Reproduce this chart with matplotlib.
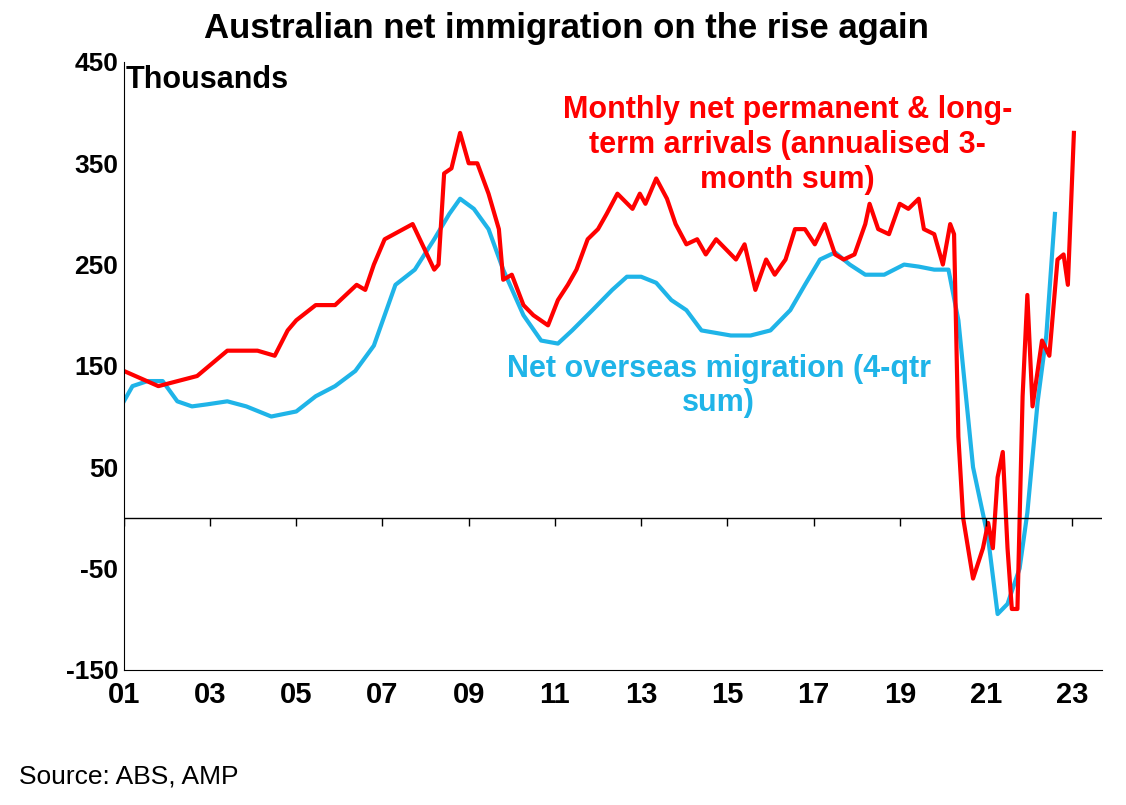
import matplotlib
matplotlib.use("Agg")
import matplotlib.pyplot as plt
import numpy as np

plt.rcParams['font.family'] = ['Liberation Sans', 'DejaVu Sans']

red_x = [2001.0,2001.8,2002.7,2003.4,2004.1,2004.5,2004.8,2005.0,2005.45,2005.9,2006.4,2006.6,2006.8,2007.05,2007.7,2008.2,2008.3,2008.43,2008.6,2008.8,2009.0,2009.2,2009.46,2009.7,2009.8,2010.0,2010.27,2010.5,2010.84,2011.07,2011.3,2011.5,2011.76,2012.0,2012.2,2012.45,2012.8,2012.97,2013.1,2013.35,2013.6,2013.8,2014.05,2014.3,2014.5,2014.74,2014.97,2015.2,2015.4,2015.65,2015.9,2016.1,2016.35,2016.57,2016.8,2017.03,2017.26,2017.5,2017.7,2017.95,2018.2,2018.3,2018.5,2018.75,2019.0,2019.2,2019.44,2019.56,2019.8,2020.0,2020.17,2020.26,2020.36,2020.47,2020.7,2020.93,2021.05,2021.16,2021.27,2021.39,2021.5,2021.6,2021.73,2021.85,2021.96,2022.08,2022.3,2022.47,2022.66,2022.8,2022.9,2023.04]
red_y = [145,130,140,165,165,160,185,195,210,210,230,225,250,275,290,245,250,340,345,380,350,350,320,285,235,240,210,200,190,215,230,245,275,285,300,320,305,320,310,335,315,290,270,275,260,275,265,255,270,225,255,240,255,285,285,270,290,260,255,260,290,310,285,280,310,305,315,285,280,250,290,280,80,0,-60,-30,-5,-30,40,65,-30,-90,-90,120,220,110,175,160,255,260,230,380]

blue_x = [2001.0,2001.2,2001.55,2001.9,2002.24,2002.58,2002.93,2003.4,2003.84,2004.42,2005.0,2005.45,2005.9,2006.37,2006.8,2007.3,2007.75,2008.2,2008.55,2008.8,2009.12,2009.46,2009.8,2010.27,2010.68,2011.07,2011.4,2011.87,2012.33,2012.67,2013.0,2013.35,2013.7,2014.05,2014.4,2015.08,2015.54,2016.0,2016.46,2016.8,2017.15,2017.5,2017.84,2018.2,2018.64,2019.1,2019.44,2019.8,2020.13,2020.36,2020.7,2021.05,2021.27,2021.5,2021.78,2021.96,2022.2,2022.4,2022.6]
blue_y = [115,130,135,135,115,110,112,115,110,100,105,120,130,145,170,230,245,275,300,315,305,285,245,200,175,172,185,205,225,238,238,232,215,205,185,180,180,185,205,230,255,262,250,240,240,250,248,245,245,195,50,-20,-95,-85,-50,5,115,180,300]

x_ticks = list(range(2001, 2024, 2))
x_labels = ["%02d" % (y % 100) for y in x_ticks]
y_ticks = [450, 350, 250, 150, 50, -50, -150]

fig = plt.figure(figsize=(11.26, 8.05), dpi=100)
ax = fig.add_axes([0.110, 0.168, 0.869, 0.755])
ax.plot(blue_x, blue_y, color='#1fb4e8', lw=3)
ax.plot(red_x, red_y, color='#ff0000', lw=3)
ax.axhline(0, color='black', lw=1)
ax.vlines(x_ticks, -8, 0, color='black', lw=1)
ax.set_xlim(2001, 2023.7)
ax.set_ylim(-150, 450)
ax.set_xticks(x_ticks)
ax.set_xticklabels(x_labels, fontsize=21, fontweight='bold')
ax.set_yticks(y_ticks)
ax.set_yticklabels([str(v) for v in y_ticks], fontsize=19, fontweight='bold')
ax.tick_params(axis='x', length=0, pad=8)
ax.tick_params(axis='y', length=0, pad=4)
for s in ['top', 'right']:
    ax.spines[s].set_visible(False)
ax.spines['left'].set_color('black')
ax.spines['bottom'].set_color('black')
ax.text(2001.05, 447, "Thousands", fontsize=22, fontweight='bold', va='top')
ax.text(2016.4, 368, "Monthly net permanent & long-\nterm arrivals (annualised 3-\nmonth sum)", color='#ff0000',
        fontsize=22, fontweight='bold', ha='center', va='center', linespacing=1.2)
ax.text(2014.8, 130, "Net overseas migration (4-qtr\nsum)", color='#1fb4e8',
        fontsize=22, fontweight='bold', ha='center', va='center', linespacing=1.2)
fig.text(0.503, 0.965, "Australian net immigration on the rise again", fontsize=25, fontweight='bold', ha='center', va='center')
fig.text(0.017, 0.035, "Source: ABS, AMP", fontsize=19, ha='left', va='center')
fig.savefig("out.png", dpi=100)
